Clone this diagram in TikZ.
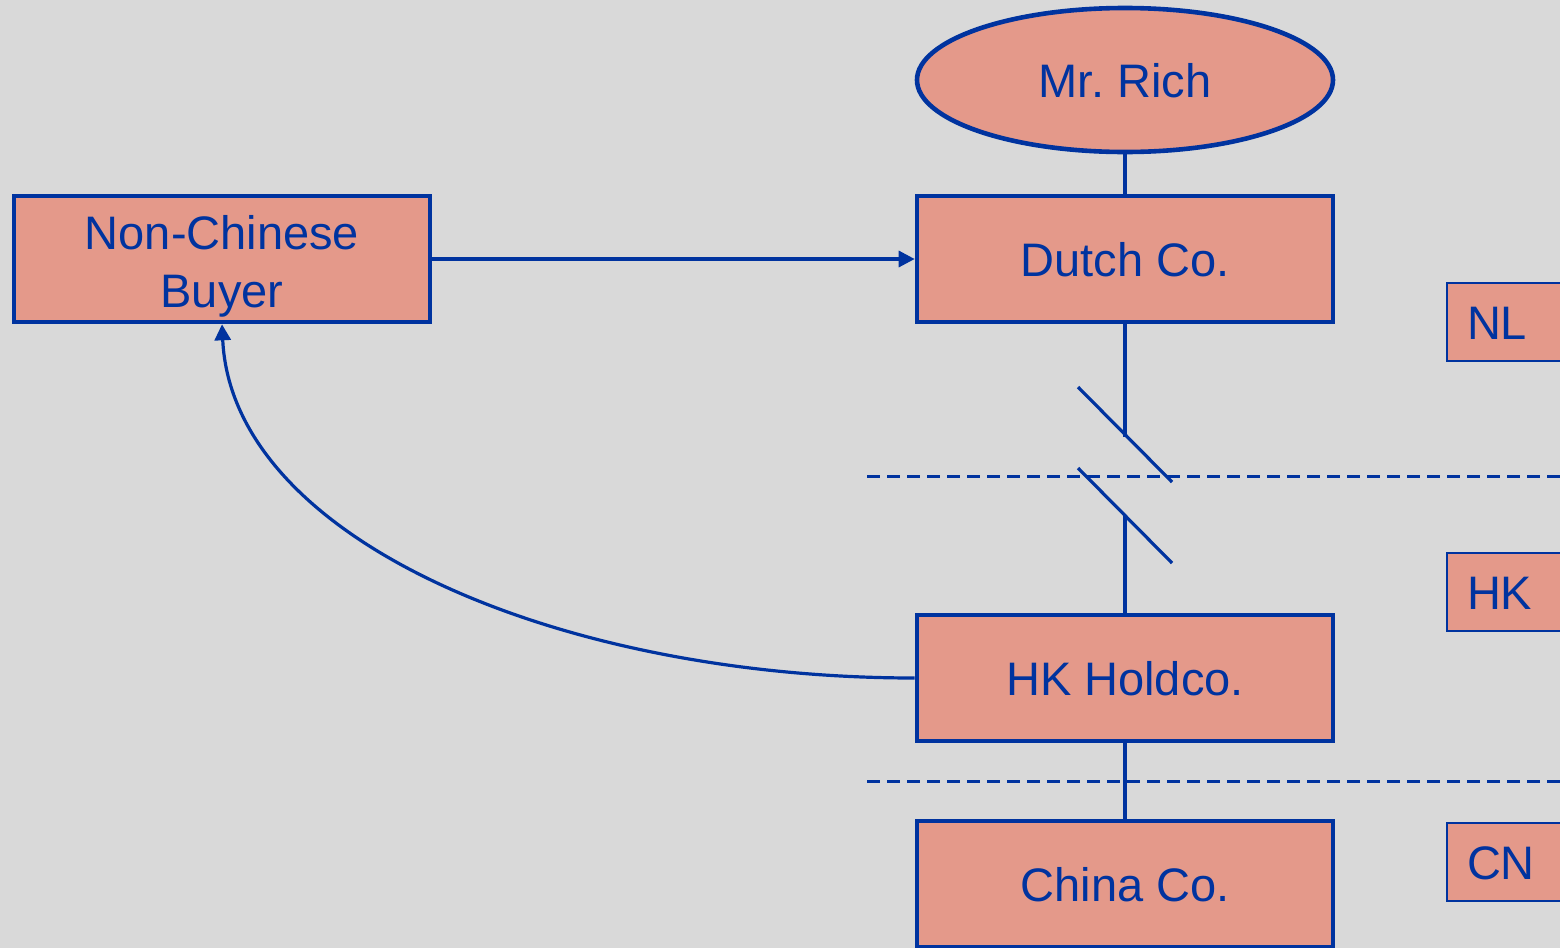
\documentclass[tikz,border=0pt]{standalone}
\usepackage{fontspec}
\setmainfont{Liberation Sans}
\frenchspacing
\usetikzlibrary{arrows.meta,shapes.geometric}
\definecolor{bg}{HTML}{D9D9D9}
\definecolor{salmon}{HTML}{E4998A}
\definecolor{navy}{HTML}{00339F}
\tikzset{
  entity/.style={draw=navy, fill=salmon, line width=2.3pt, minimum width=208pt, minimum height=63pt,
    text=navy, font=\fontsize{23.5}{29}\selectfont, align=center, inner sep=0pt,
    text height=18pt, text depth=1pt},
  country/.style={draw=navy, fill=salmon, line width=1pt, anchor=west, minimum height=39pt,
    text width=60pt, inner xsep=10pt, inner ysep=0pt, align=left, text=navy,
    font=\fontsize{23.5}{29}\selectfont, text height=18pt, text depth=1pt},
  link/.style={draw=navy, line width=1.6pt},
  border/.style={draw=navy, line width=1.5pt, dash pattern=on 6.5pt off 3.5pt},
  arr/.style={link, -{Triangle[length=8pt,width=8pt]}}
}
\begin{document}
\begin{tikzpicture}[x=0.5pt,y=-0.5pt]
\useasboundingbox (0,0) rectangle (1560,948);
\clip (0,0) rectangle (1560,948);
\fill[bg] (0,0) rectangle (1560,948);
% borders
\coordinate (b1l) at (867,476); \coordinate (b1r) at (1560,476);
\coordinate (b2l) at (867,781); \coordinate (b2r) at (1560,781);
\draw[border] (b1l) -- (b1r);
\draw[border] (b2l) -- (b2r);
% nodes
\node[entity, ellipse, minimum width=208pt, minimum height=72pt] (rich) at (1125,80) {Mr.\ Rich};
\node[entity] (dutch) at (1125,259) {Dutch Co.};
\node[entity, text height=49pt, text depth=1pt] (buyer) at (222,259) {Non-Chinese\\Buyer};
\node[entity] (hk) at (1125,678) {HK Holdco.};
\node[entity] (china) at (1125,884) {China Co.};
\node[country] (nl) at (1446,322) {NL};
\node[country] (hkc) at (1446,592) {HK};
\node[country] (cn) at (1446,862) {CN};
% links
\draw[link] (rich) -- (dutch);
\coordinate (cut1) at (1125,437);
\coordinate (cut2) at (1125,516);
\coordinate (s1a) at (1078,387); \coordinate (s1b) at (1172,482);
\coordinate (s2a) at (1078,468); \coordinate (s2b) at (1172,563);
\draw[link] (dutch) -- (cut1);
\draw[link] (cut2) -- (hk);
\draw[link] (s1a) -- (s1b);
\draw[link] (s2a) -- (s2b);
\draw[link] (hk) -- (china);
\draw[arr] (buyer) -- (dutch);
\draw[arr] (hk.west) .. controls (560,678) and (232,540) .. (buyer.south);
\end{tikzpicture}
\end{document}
